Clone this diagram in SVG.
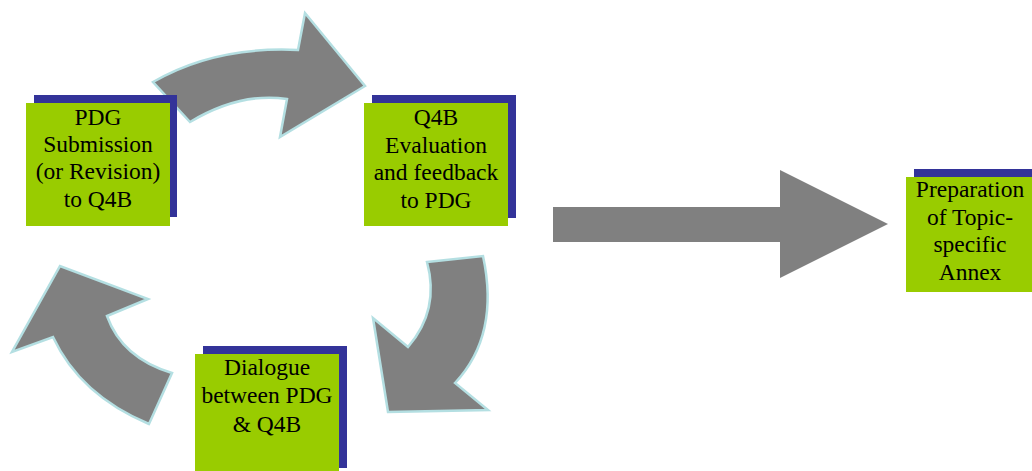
<svg xmlns="http://www.w3.org/2000/svg" width="1032" height="471" viewBox="0 0 1032 471">
<style>
.shadow{fill:#333399}
.box{fill:#99cc00}
.lbl{font-family:"Liberation Serif","Times New Roman",serif;font-size:23.5px;fill:#000;text-anchor:middle}
.curve{fill:#808080;stroke:#b4dfe2;stroke-width:2.5;stroke-linejoin:miter}
.straight{fill:#808080}
</style>
<rect width="1032" height="471" fill="#fff"/>
<g id="connectors">
<path class="curve" d="M153,82 Q215,46 298,50 L305,13 L365,86 L280,137 L287,99 Q240,92 190,122 Z"/>
<path class="curve" d="M427,262 L483,256 Q500,335 455,383 L488,410 L388,412 L373,318 L408,347 Q440,310 427,262 Z"/>
<path class="curve" d="M149,424 Q80,395 53,337 L12,352 L60,266 L148,299 L107,316 Q122,358 172,373 Z"/>
<path class="straight" d="M553,207 L780,207 L780,170 L888,224 L780,278 L780,242 L553,242 Z"/>
</g>
<g id="node-submission">
<rect class="shadow" x="34" y="95" width="143" height="122"/>
<rect class="box" x="26" y="103" width="144" height="123"/>
<text class="lbl" x="98" y="125">PDG</text>
<text class="lbl" x="98" y="152">Submission</text>
<text class="lbl" x="98" y="179">(or Revision)</text>
<text class="lbl" x="98" y="207">to Q4B</text>
</g>
<g id="node-evaluation">
<rect class="shadow" x="372" y="95" width="144" height="123"/>
<rect class="box" x="364" y="103" width="144" height="123"/>
<text class="lbl" x="436" y="125">Q4B</text>
<text class="lbl" x="436" y="153">Evaluation</text>
<text class="lbl" x="436" y="180">and feedback</text>
<text class="lbl" x="436" y="208">to PDG</text>
</g>
<g id="node-dialogue">
<rect class="shadow" x="203" y="346" width="144" height="122"/>
<rect class="box" x="195" y="354" width="144" height="117"/>
<text class="lbl" x="267" y="375">Dialogue</text>
<text class="lbl" x="267" y="403">between PDG</text>
<text class="lbl" x="267" y="432">&amp; Q4B</text>
</g>
<g id="node-annex">
<rect class="shadow" x="914" y="169" width="118" height="115"/>
<rect class="box" x="906" y="177" width="126" height="115"/>
<text class="lbl" x="970" y="197">Preparation</text>
<text class="lbl" x="970" y="225">of Topic-</text>
<text class="lbl" x="970" y="252">specific</text>
<text class="lbl" x="970" y="280">Annex</text>
</g>
</svg>
